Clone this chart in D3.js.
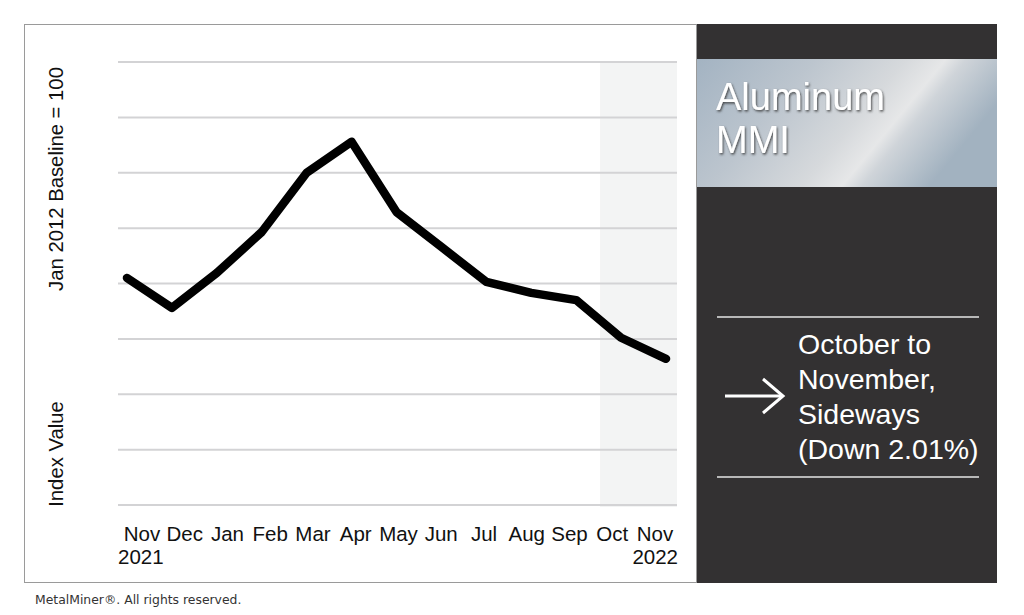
<!DOCTYPE html>
<html><head><meta charset="utf-8">
<script src="https://cdn.jsdelivr.net/npm/d3@7/dist/d3.min.js"></script>
<style>
html,body{margin:0;padding:0;background:#fff;}
svg{display:block;}
</style></head>
<body>
<svg id="chart" width="1024" height="615"></svg>
<script>
// ---- data ----
const months = ["Nov","Dec","Jan","Feb","Mar","Apr","May","Jun","Jul","Aug","Sep","Oct","Nov"];
const yearLabels = ["2021","2022"];
const indexValues = [4.10,3.56,4.19,4.93,6.00,6.56,5.29,4.66,4.03,3.83,3.70,3.02,2.64];
const gridValues = [0,1,2,3,4,5,6,7,8];
const highlightMonths = [11,12];
const titleLines = ["Aluminum","MMI"];
const noteLines = ["October to","November,","Sideways","(Down 2.01%)"];
const yTitles = ["Jan 2012 Baseline = 100","Index Value"];
const footer = "MetalMiner\u00AE. All rights reserved.";

const svg = d3.select("#chart");
const font = "'Liberation Sans', Arial, sans-serif";

// panels
svg.append("rect").attr("x",24.5).attr("y",24.5).attr("width",672).attr("height",558)
  .attr("fill","#fff").attr("stroke","#9a9a9a").attr("stroke-width",1);
svg.append("rect").attr("x",697).attr("y",24).attr("width",300).attr("height",559).attr("fill","#333132");

// scales
const x = d3.scalePoint().domain(d3.range(months.length)).range([127,666]);
const xl = d3.scalePoint().domain(d3.range(months.length)).range([142,655]);
const y = d3.scaleLinear().domain([0,8]).range([505,62]);

// highlight band
svg.append("rect")
  .attr("x", x(highlightMonths[0]) - 21)
  .attr("y", y(8))
  .attr("width", 677 - (x(highlightMonths[0]) - 21))
  .attr("height", y(0) - y(8) + 2)
  .attr("fill","#f3f4f4");

// gridlines
svg.append("g").selectAll("line").data(gridValues).join("line")
  .attr("x1",118).attr("x2",677)
  .attr("y1",d=>y(d)).attr("y2",d=>y(d))
  .attr("stroke","#d3d3d5").attr("stroke-width",2);

// line
const line = d3.line().x((d,i)=>x(i)).y(d=>y(d));
svg.append("path").datum(indexValues).attr("d",line)
  .attr("fill","none").attr("stroke","#000").attr("stroke-width",8.5)
  .attr("stroke-linejoin","round").attr("stroke-linecap","round");

// x labels
svg.append("g").selectAll("text").data(months).join("text")
  .attr("x",(d,i)=>xl(i)).attr("y",541).attr("text-anchor","middle")
  .attr("font-family",font).attr("font-size",20.5).attr("fill","#111").text(d=>d);
svg.append("text").attr("x",118).attr("y",564).attr("font-family",font).attr("font-size",20.5)
  .attr("fill","#111").text(yearLabels[0]);
svg.append("text").attr("x",678).attr("y",564).attr("text-anchor","end").attr("font-family",font)
  .attr("font-size",20.5).attr("fill","#111").text(yearLabels[1]);

// y titles
[[yTitles[0],179],[yTitles[1],454]].forEach(([t,cy])=>{
  svg.append("text").attr("transform",`translate(63,${cy}) rotate(-90)`)
    .attr("text-anchor","middle").attr("font-family",font).attr("font-size",20.3)
    .attr("fill","#111").text(t);
});

// gradient title box
const defs = svg.append("defs");
const g = defs.append("linearGradient").attr("id","steel")
  .attr("x1","0%").attr("y1","0%").attr("x2","100%").attr("y2","35%");
[[0,"#a3b3c2"],[0.35,"#bcc5ce"],[0.62,"#d6d9dc"],[0.74,"#e6e7e8"],[0.8,"#cfd4d9"],[1,"#a2b2c0"]]
  .forEach(([o,c])=>g.append("stop").attr("offset",o).attr("stop-color",c));
const f = defs.append("filter").attr("id","shadow").attr("x","-10%").attr("y","-10%").attr("width","130%").attr("height","140%");
f.append("feDropShadow").attr("dx",1).attr("dy",1.5).attr("stdDeviation",0.8).attr("flood-color","#333").attr("flood-opacity",0.85);

svg.append("rect").attr("x",697).attr("y",59).attr("width",300).attr("height",128).attr("fill","url(#steel)");
svg.append("g").selectAll("text").data(titleLines).join("text")
  .attr("x",716).attr("y",(d,i)=>110+i*43)
  .attr("font-family",font).attr("font-size",38).attr("fill","#fff")
  .attr("filter","url(#shadow)").text(d=>d);

// separators
[317,477].forEach(yy=>svg.append("line").attr("x1",717).attr("x2",979).attr("y1",yy).attr("y2",yy)
  .attr("stroke","#e6e6e6").attr("stroke-width",1.5));

// arrow
svg.append("line").attr("x1",725).attr("x2",783).attr("y1",396).attr("y2",396)
  .attr("stroke","#fff").attr("stroke-width",3);
svg.append("path").attr("d","M763,379 L783,396 L763,413").attr("fill","none")
  .attr("stroke","#fff").attr("stroke-width",3);

// note text
svg.append("g").selectAll("text").data(noteLines).join("text")
  .attr("x",798).attr("y",(d,i)=>354+i*35)
  .attr("font-family",font).attr("font-size",28.5).attr("fill","#fff").text(d=>d);

// footer
svg.append("text").attr("x",35).attr("y",604).attr("font-family","'DejaVu Sans', Verdana, sans-serif")
  .attr("font-size",12.4).attr("fill","#333").text(footer);
</script>
</body></html>
